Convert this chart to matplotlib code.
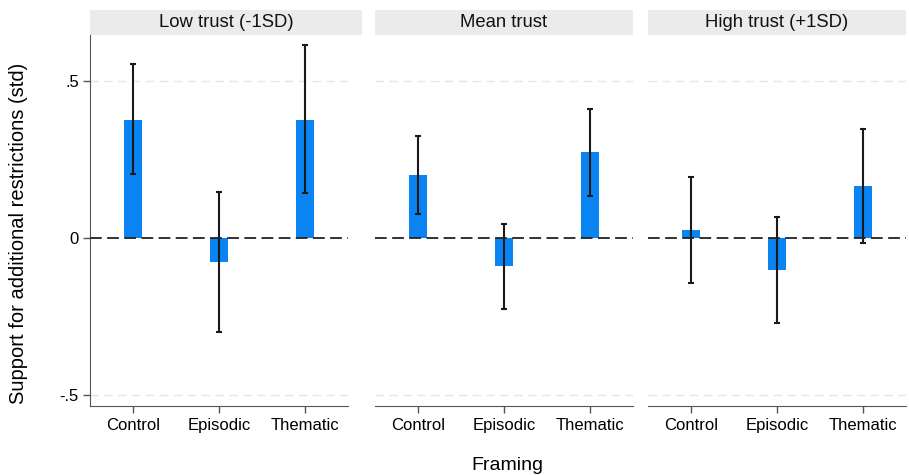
import numpy as np
import matplotlib
matplotlib.use("Agg")
import matplotlib.pyplot as plt
from matplotlib.patches import Rectangle

plt.rcParams['font.family'] = ['Liberation Sans', 'DejaVu Sans']

# Data
panels = ['Low trust (-1SD)', 'Mean trust', 'High trust (+1SD)']
framing = ['Control', 'Episodic', 'Thematic']
estimates = [
    [0.376, -0.077, 0.376],
    [0.201, -0.089, 0.272],
    [0.025, -0.102, 0.166],
]
ci_low = [
    [0.203, -0.300, 0.142],
    [0.077, -0.225, 0.132],
    [-0.144, -0.271, -0.017],
]
ci_high = [
    [0.553, 0.145, 0.615],
    [0.325, 0.045, 0.412],
    [0.194, 0.067, 0.347],
]
yticks = [-0.5, 0, 0.5]
ytick_labels = ['-.5', '0', '.5']

bar_color = '#0a84f3'
fig = plt.figure(figsize=(9.09, 4.75), dpi=100)

W, H = 909, 475
lefts = [90, 375, 648]
width_px = 258
bottom_px, top_px = 405.7, 35
strip_top_px = 10
strip_right_extra = [14, 0, 0]

x = np.arange(1, 4)
for i, name in enumerate(panels):
    ax = fig.add_axes([lefts[i] / W, 1 - bottom_px / H, width_px / W, (bottom_px - top_px) / H])
    ax.set_xlim(0.5, 3.5)
    ax.set_ylim(-0.534, 0.646)

    # light grid at +-.5 and black dashed zero line
    for yv in [-0.5, 0.5]:
        ax.axhline(yv, color='#e6e6e6', lw=1.0, ls=(0, (6, 4)), zorder=0)
    ax.bar(x, estimates[i], width=0.2, color=bar_color, zorder=2)
    est = np.array(estimates[i])
    yerr = [est - np.array(ci_low[i]), np.array(ci_high[i]) - est]
    ax.errorbar(x, est, yerr=yerr, fmt='none', ecolor='#1a1a1a', elinewidth=1.5,
                capsize=2.5, capthick=1.5, zorder=3)
    ax.axhline(0, color='#222222', lw=1.3, ls=(0, (6.5, 3)), zorder=4)

    ax.set_xticks(x)
    ax.set_xticklabels(framing, fontsize=12)
    ax.tick_params(axis='x', length=5, width=1, color='#555555', pad=4)
    for s in ['top', 'right']:
        ax.spines[s].set_visible(False)
    ax.spines['bottom'].set_color('#555555')
    ax.spines['left'].set_color('#555555')
    if i == 0:
        ax.set_yticks(yticks)
        ax.set_yticklabels(ytick_labels, fontsize=12)
        ax.tick_params(axis='y', length=5, width=1, color='#555555', pad=3)
    else:
        ax.spines['left'].set_visible(False)
        ax.set_yticks([])

    # facet strip
    ax_h = bottom_px - top_px
    strip_h = (top_px - strip_top_px) / ax_h
    strip_w = 1 + strip_right_extra[i] / width_px
    ax.add_patch(Rectangle((0, 1), strip_w, strip_h, transform=ax.transAxes,
                           facecolor='#ebebeb', edgecolor='none', clip_on=False))
    ax.text(strip_w / 2, 1 + strip_h / 2, name, transform=ax.transAxes,
            ha='center', va='center', fontsize=13.3, color='#111111')

fig.text(19 / W, 1 - 233 / H, 'Support for additional restrictions (std)', rotation=90,
         ha='center', va='center', fontsize=14.5)
fig.text(507 / W, 1 - 465 / H, 'Framing', ha='center', va='center', fontsize=14)

fig.savefig('out.png', dpi=100)
